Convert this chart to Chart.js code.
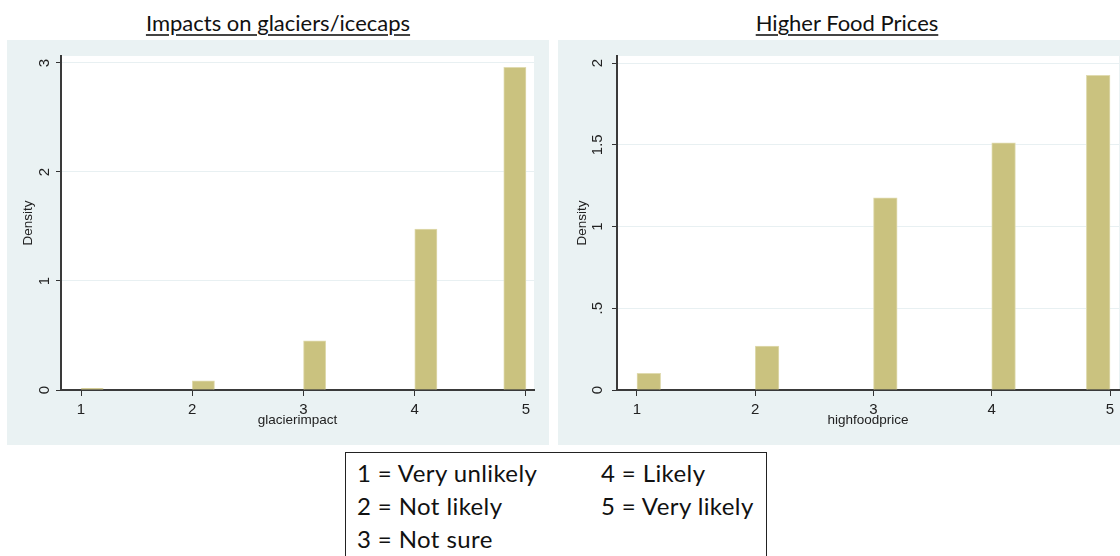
<!DOCTYPE html>
<html>
<head>
<meta charset="utf-8">
<script src="https://cdn.jsdelivr.net/npm/chart.js@4.4.0/dist/chart.umd.min.js"></script>
<style>
  body { margin: 0; background: #ffffff; width: 1120px; height: 556px; overflow: hidden; position: relative; }
  .panel { position: absolute; background: #eaf2f3; }
  .title {
    position: absolute; top: 9px; font-family: Lato, "Open Sans", sans-serif; font-size: 22px;
    color: #111; text-decoration: underline; text-underline-offset: 3px; text-decoration-color: #444;
    white-space: nowrap; transform: translateX(-50%);
  }
  #legend {
    position: absolute; left: 345px; top: 452px; width: 422px; height: 120px;
    border: 1px solid #222; background: #fff; box-sizing: border-box;
    font-family: Lato, "Open Sans", sans-serif; font-size: 24px; letter-spacing: 0.4px; color: #111;
  }
  #legend .col { position: absolute; top: 3px; line-height: 33px; white-space: nowrap; }
</style>
</head>
<body>
<div class="title" style="left:278px">Impacts on glaciers/icecaps</div>
<div class="title" style="left:847px">Higher Food Prices</div>

<canvas id="glacierChart" class="panel" width="542" height="405" style="left:7px; top:40px"></canvas>
<canvas id="foodChart" class="panel" width="562" height="405" style="left:558px; top:40px"></canvas>

<div id="legend">
  <div class="col" id="legendCol1" style="left:11px"></div>
  <div class="col" id="legendCol2" style="left:255px"></div>
</div>

<script>
// histogram bins are 0.2 wide, answer 5 lands in the last bin (4.8-5)
const categories = [1, 2, 3, 4, 5];
const binStarts = [1, 2, 3, 4, 4.8];
const binWidth = 0.2;

const glacierDensity = [0.015, 0.085, 0.45, 1.477, 2.96];
const foodDensity = [0.102, 0.269, 1.176, 1.512, 1.925];

const xTicks = [1, 2, 3, 4, 5];
const glacierYTicks = [0, 1, 2, 3];
const foodYTicks = [0, 0.5, 1, 1.5, 2];

const legendLabels = ["Very unlikely", "Not likely", "Not sure", "Likely", "Very likely"];

const axisFont = { family: "'Liberation Sans', Arial, sans-serif", size: 15 };
const titleFont = { family: "'Liberation Sans', Arial, sans-serif", size: 13.5 };

// Stata style tick text: .5 instead of 0.5
const fmtTick = (v) => String(v).replace(/^0\./, ".");

// white plot region on the blue-grey graph region
const plotBackground = {
  id: "plotBackground",
  beforeDraw(chart) {
    const { ctx, chartArea } = chart;
    ctx.save();
    ctx.fillStyle = "#ffffff";
    ctx.fillRect(chartArea.left, chartArea.top, chartArea.width, chartArea.height);
    ctx.restore();
  },
};

function renderChart(id, values, cfg) {
  const ctx = document.getElementById(id).getContext("2d");
  const points = binStarts.map((s, i) => ({ x: s + binWidth / 2, y: values[i] }));
  const barPx = (binWidth * cfg.plotWidth) / (cfg.xMax - cfg.xMin);

  return new Chart(ctx, {
    type: "bar",
    data: {
      datasets: [
        {
          data: points,
          backgroundColor: "#cac27f",
          borderColor: "#e0dbb0",
          borderWidth: 1,
          barThickness: barPx,
          grouped: false,
        },
      ],
    },
    options: {
      responsive: false,
      animation: false,
      layout: { padding: { top: 16, right: cfg.padRight, left: 0, bottom: 0 } },
      plugins: { legend: { display: false }, tooltip: { enabled: false } },
      scales: {
        x: {
          type: "linear",
          min: cfg.xMin,
          max: cfg.xMax,
          offset: false,
          afterBuildTicks: (scale) => {
            scale.ticks = xTicks.map((v) => ({ value: v }));
          },
          afterFit: (scale) => {
            scale.height = 55;
          },
          ticks: { font: axisFont, color: "#222", padding: 5, maxRotation: 0, callback: fmtTick },
          grid: { offset: false, drawOnChartArea: false, drawTicks: true, tickLength: 6, tickColor: "#333", tickWidth: 1 },
          border: { color: "#3a3a3a", width: 2 },
          title: { display: true, text: cfg.xTitle, font: titleFont, color: "#222", padding: { top: 0, bottom: 17 } },
        },
        y: {
          min: 0,
          max: cfg.yMax,
          afterBuildTicks: (scale) => {
            scale.ticks = cfg.yTicks.map((v) => ({ value: v }));
          },
          afterFit: (scale) => {
            scale.width = cfg.yWidth;
          },
          ticks: {
            font: axisFont,
            color: "#222",
            minRotation: 90,
            maxRotation: 90,
            crossAlign: "center",
            padding: cfg.yTickPad,
            callback: fmtTick,
          },
          grid: { color: "#e8f0f2", lineWidth: 1, tickLength: 5, tickColor: "#333", tickWidth: 1 },
          border: { color: "#3a3a3a", width: 2 },
          title: { display: true, text: "Density", font: titleFont, color: "#222", padding: { top: cfg.yTitlePad, bottom: 0 } },
        },
      },
    },
    plugins: [plotBackground],
  });
}

renderChart("glacierChart", glacierDensity, {
  xTitle: "glacierimpact",
  xMin: 0.82,
  xMax: 5.072,
  yMax: 3.064,
  yTicks: glacierYTicks,
  yWidth: 54,
  yTickPad: 7,
  yTitlePad: 13,
  padRight: 15,
  plotWidth: 473,
});

renderChart("foodChart", foodDensity, {
  xTitle: "highfoodprice",
  xMin: 0.831,
  xMax: 5.076,
  yMax: 2.043,
  yTicks: foodYTicks,
  yWidth: 59,
  yTickPad: 4,
  yTitlePad: 16,
  padRight: 1,
  plotWidth: 502,
});

// value labels box under the charts
const col1 = document.getElementById("legendCol1");
const col2 = document.getElementById("legendCol2");
categories.forEach((c, i) => {
  const row = document.createElement("div");
  row.textContent = c + " = " + legendLabels[i];
  (i < 3 ? col1 : col2).appendChild(row);
});
</script>
</body>
</html>
